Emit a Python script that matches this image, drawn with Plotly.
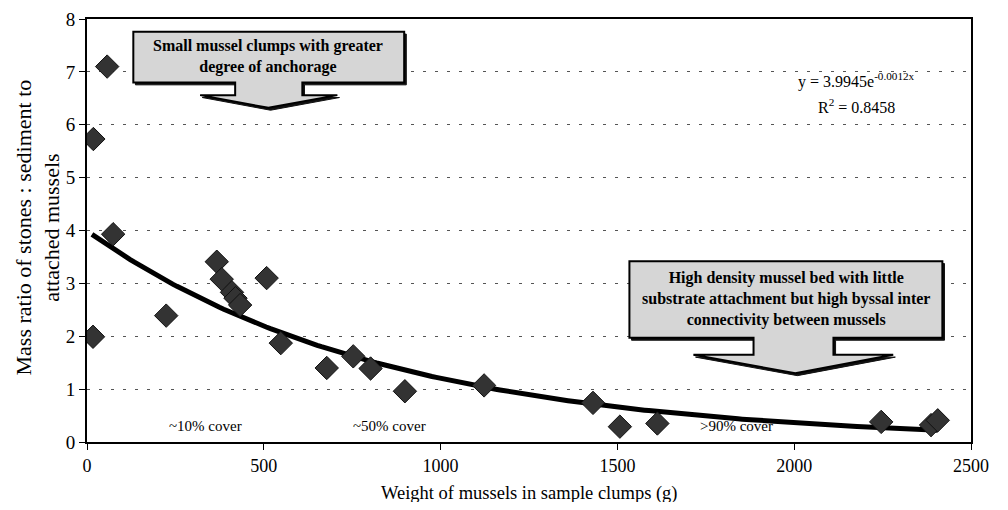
import numpy as np
import plotly.graph_objects as go

# Data
weight_g = [17, 18, 57, 74, 224, 367, 381, 410, 420, 433, 508, 548, 678, 753, 802, 899,
            1123, 1431, 1507, 1613, 2246, 2387, 2406]
ratio = [1.99, 5.73, 7.10, 3.93, 2.39, 3.41, 3.08, 2.83, 2.72, 2.59, 3.10, 1.87, 1.40, 1.62, 1.39, 0.96,
         1.07, 0.74, 0.29, 0.35, 0.38, 0.32, 0.41]

# Trendline as stated on the chart: y = 3.9945 e^(-0.0012x)
fit_a = 3.9945
fit_b = -0.0012
fit_x = np.linspace(14, 2406, 200)
fit_y = fit_a * np.exp(fit_b * fit_x)

y_ticks = [0, 1, 2, 3, 4, 5, 6, 7, 8]
x_ticks = [0, 500, 1000, 1500, 2000, 2500]

FONT = "Liberation Serif"

fig = go.Figure()
fig.add_trace(go.Scatter(x=fit_x, y=fit_y, mode="lines",
                         line=dict(color="black", width=5), hoverinfo="skip"))
fig.add_trace(go.Scatter(x=weight_g, y=ratio, mode="markers",
                         marker=dict(symbol="diamond", size=18, color="#333333",
                                     line=dict(color="#111111", width=1))))

# Callout arrows (shapes)
def callout(bx0, bx1, by0, by1, sx0, sx1, sy, hx0, hx1, tx, ty, dx=0.0, dy=0.0):
    pts = [(bx0, by0), (bx1, by0), (bx1, by1), (sx1, by1), (sx1, sy), (hx1, sy),
           (tx, ty), (hx0, sy), (sx0, sy), (sx0, by1), (bx0, by1)]
    return "M " + " L ".join(f"{x + dx},{y + dy}" for x, y in pts) + " Z"

callouts = [
    (131, 897, 7.76, 6.80, 419, 609, 6.56, 320, 708, 513, 6.32),
    (1534, 2419, 3.42, 1.97, 1885, 2111, 1.65, 1715, 2280, 2003, 1.30),
]
for c in callouts:
    # shadow (slightly offset, gives the thicker lower/right edge)
    fig.add_shape(type="path", path=callout(*c, dx=6, dy=-0.045), xref="x", yref="y",
                  fillcolor="#111111", line=dict(color="#111111", width=1), layer="above")
    fig.add_shape(type="path", path=callout(*c), xref="x", yref="y",
                  fillcolor="#d6d6d6", line=dict(color="black", width=2), layer="above")

fig.add_annotation(x=513, y=7.30, xref="x", yref="y", showarrow=False,
                   text="<b>Small mussel clumps with greater<br>degree of anchorage</b>",
                   font=dict(family=FONT, size=16, color="black"), align="center")
fig.add_annotation(x=1976, y=2.70, xref="x", yref="y", showarrow=False,
                   text="<b>High density mussel bed with little<br>substrate attachment but high byssal inter<br>connectivity between mussels</b>",
                   font=dict(family=FONT, size=16, color="black"), align="center")

# Cover labels
for tx, lab in [(334, "~10% cover"), (855, "~50% cover"), (1837, ">90% cover")]:
    fig.add_annotation(x=tx, y=0.30, xref="x", yref="y", showarrow=False, text=lab,
                       font=dict(family=FONT, size=15, color="black"))

# Equation
fig.add_annotation(x=2175, y=6.83, xref="x", yref="y", showarrow=False,
                   text="y = 3.9945e<sup>-0.0012x</sup>",
                   font=dict(family=FONT, size=16, color="black"))
fig.add_annotation(x=2175, y=6.36, xref="x", yref="y", showarrow=False,
                   text="R<sup>2</sup> = 0.8458",
                   font=dict(family=FONT, size=16, color="black"))

# Axis titles
fig.add_annotation(x=0, y=0.5, xref="paper", yref="paper", xshift=-50, yshift=3,
                   xanchor="center", yanchor="middle", showarrow=False,
                   textangle=-90, text="Mass ratio of stones : sediment to<br>attached mussels",
                   font=dict(family=FONT, size=22, color="black"), align="center")
fig.add_annotation(x=0.5, y=0, xref="paper", yref="paper", yshift=-51,
                   xanchor="center", yanchor="middle", showarrow=False,
                   text="Weight of mussels in sample clumps (g)",
                   font=dict(family=FONT, size=18.5, color="black"))

fig.update_layout(
    width=992, height=494,
    margin=dict(l=79, r=29, t=11, b=60),
    paper_bgcolor="white", plot_bgcolor="white",
    showlegend=False,
    font=dict(family=FONT, size=18, color="black"),
    xaxis=dict(range=[0, 2500], tickvals=x_ticks, ticks="outside", ticklen=6,
               tickcolor="black", showline=True, linecolor="black", linewidth=2,
               mirror=True, showgrid=False, zeroline=False, automargin=False,
               ticklabeloverflow="allow",
               tickfont=dict(family=FONT, size=18)),
    yaxis=dict(range=[0, 8], tickvals=y_ticks, ticks="outside", ticklen=6,
               tickcolor="black", showline=True, linecolor="black", linewidth=2,
               mirror=True, showgrid=True, gridcolor="#555555", gridwidth=1,
               griddash="3px,9px", zeroline=False, automargin=False,
               ticklabeloverflow="allow",
               tickfont=dict(family=FONT, size=19)),
)

fig.write_html("out.html")
